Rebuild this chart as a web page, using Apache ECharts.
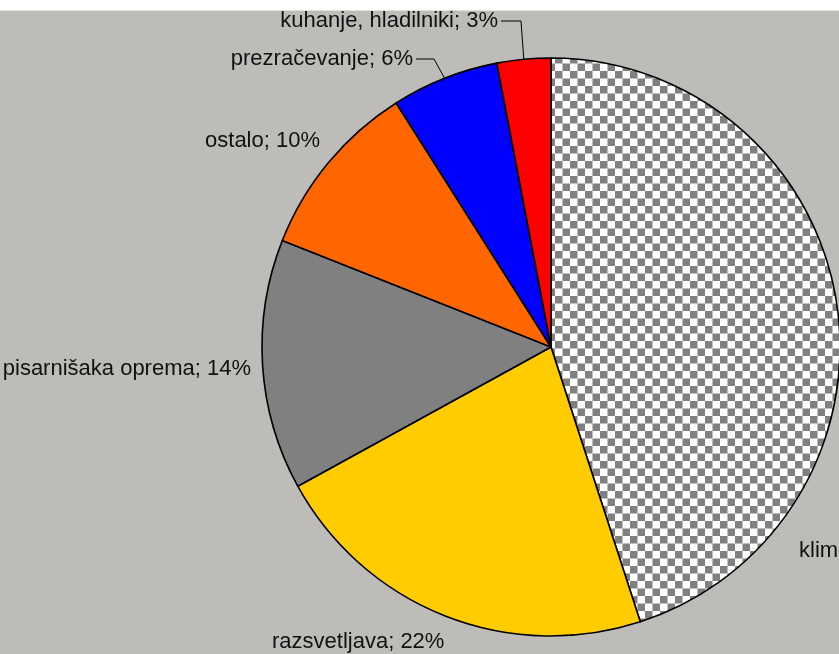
<!DOCTYPE html>
<html>
<head>
<meta charset="utf-8">
<script src="https://cdn.jsdelivr.net/npm/echarts@6/dist/echarts.min.js"></script>
<style>
  html, body { margin: 0; padding: 0; background: #fff; }
  #chart { position: absolute; left: 0; top: 10px; width: 839px; height: 644px;
           background: #bebcb8; border-top: 1px solid #e2e1de; box-sizing: border-box; }
</style>
</head>
<body>
<div id="chart"></div>
<script>
// poraba energije po namenu
const categories = ['klima', 'razsvetljava', 'pisarnišaka oprema', 'ostalo', 'prezračevanje', 'kuhanje, hladilniki'];
const shares = [45, 22, 14, 10, 6, 3];
const colors = ['checker', '#ffcc00', '#808080', '#ff6600', '#0000ff', '#ff0000'];

// where the labels sit (chart px), like the excel original
const labelSpots = [
  { x: 799, y: 540, align: 'left' },
  { x: 272, y: 631, align: 'left' },
  { x: 251, y: 358, align: 'right' },
  { x: 320, y: 130, align: 'right' },
  { x: 413, y: 48, align: 'right' },
  { x: 498, y: 10, align: 'right' }
];

// checker fill for klima
function checker() {
  const c = document.createElement('canvas');
  c.width = 15; c.height = 15;
  const g = c.getContext('2d');
  g.fillStyle = '#ffffff';
  g.fillRect(0, 0, 15, 15);
  g.fillStyle = '#808080';
  g.fillRect(0, 0, 7.5, 7.5);
  g.fillRect(7.5, 7.5, 7.5, 7.5);
  return { image: c, repeat: 'repeat' };
}

const data = categories.map((name, i) => ({
  name: name,
  value: shares[i],
  itemStyle: { color: colors[i] === 'checker' ? checker() : colors[i] },
  labelLine: { show: i >= 4 }
}));

let myChart = echarts.init(document.getElementById('chart'));
myChart.setOption({
  animation: false,
  series: [
    {
      type: 'pie',
      center: [551, 336],
      radius: 289,
      startAngle: 90,
      clockwise: true,
      data: data,
      itemStyle: { borderColor: '#000', borderWidth: 1.6 },
      label: {
        show: true,
        position: 'outside',
        formatter: '{b}; {c}%',
        color: '#111',
        fontFamily: 'Liberation Sans, Arial, sans-serif',
        fontSize: 22,
        width: 300,
        overflow: 'none'
      },
      labelLine: {
        show: false,
        length: 10,
        length2: 10,
        lineStyle: { color: '#000', width: 1 }
      },
      labelLayout: function (p) {
        const s = labelSpots[p.dataIndex];
        const out = { x: s.x, y: s.y, align: s.align, verticalAlign: 'middle', hideOverlap: false };
        if (p.dataIndex >= 4 && p.labelLinePoints) {
          const edge = p.labelLinePoints[0];
          const bx = p.dataIndex === 5 ? 521 : 434;
          out.labelLinePoints = [[s.x + 3, s.y], [bx, s.y], edge];
        }
        return out;
      }
    }
  ]
});
</script>
</body>
</html>
